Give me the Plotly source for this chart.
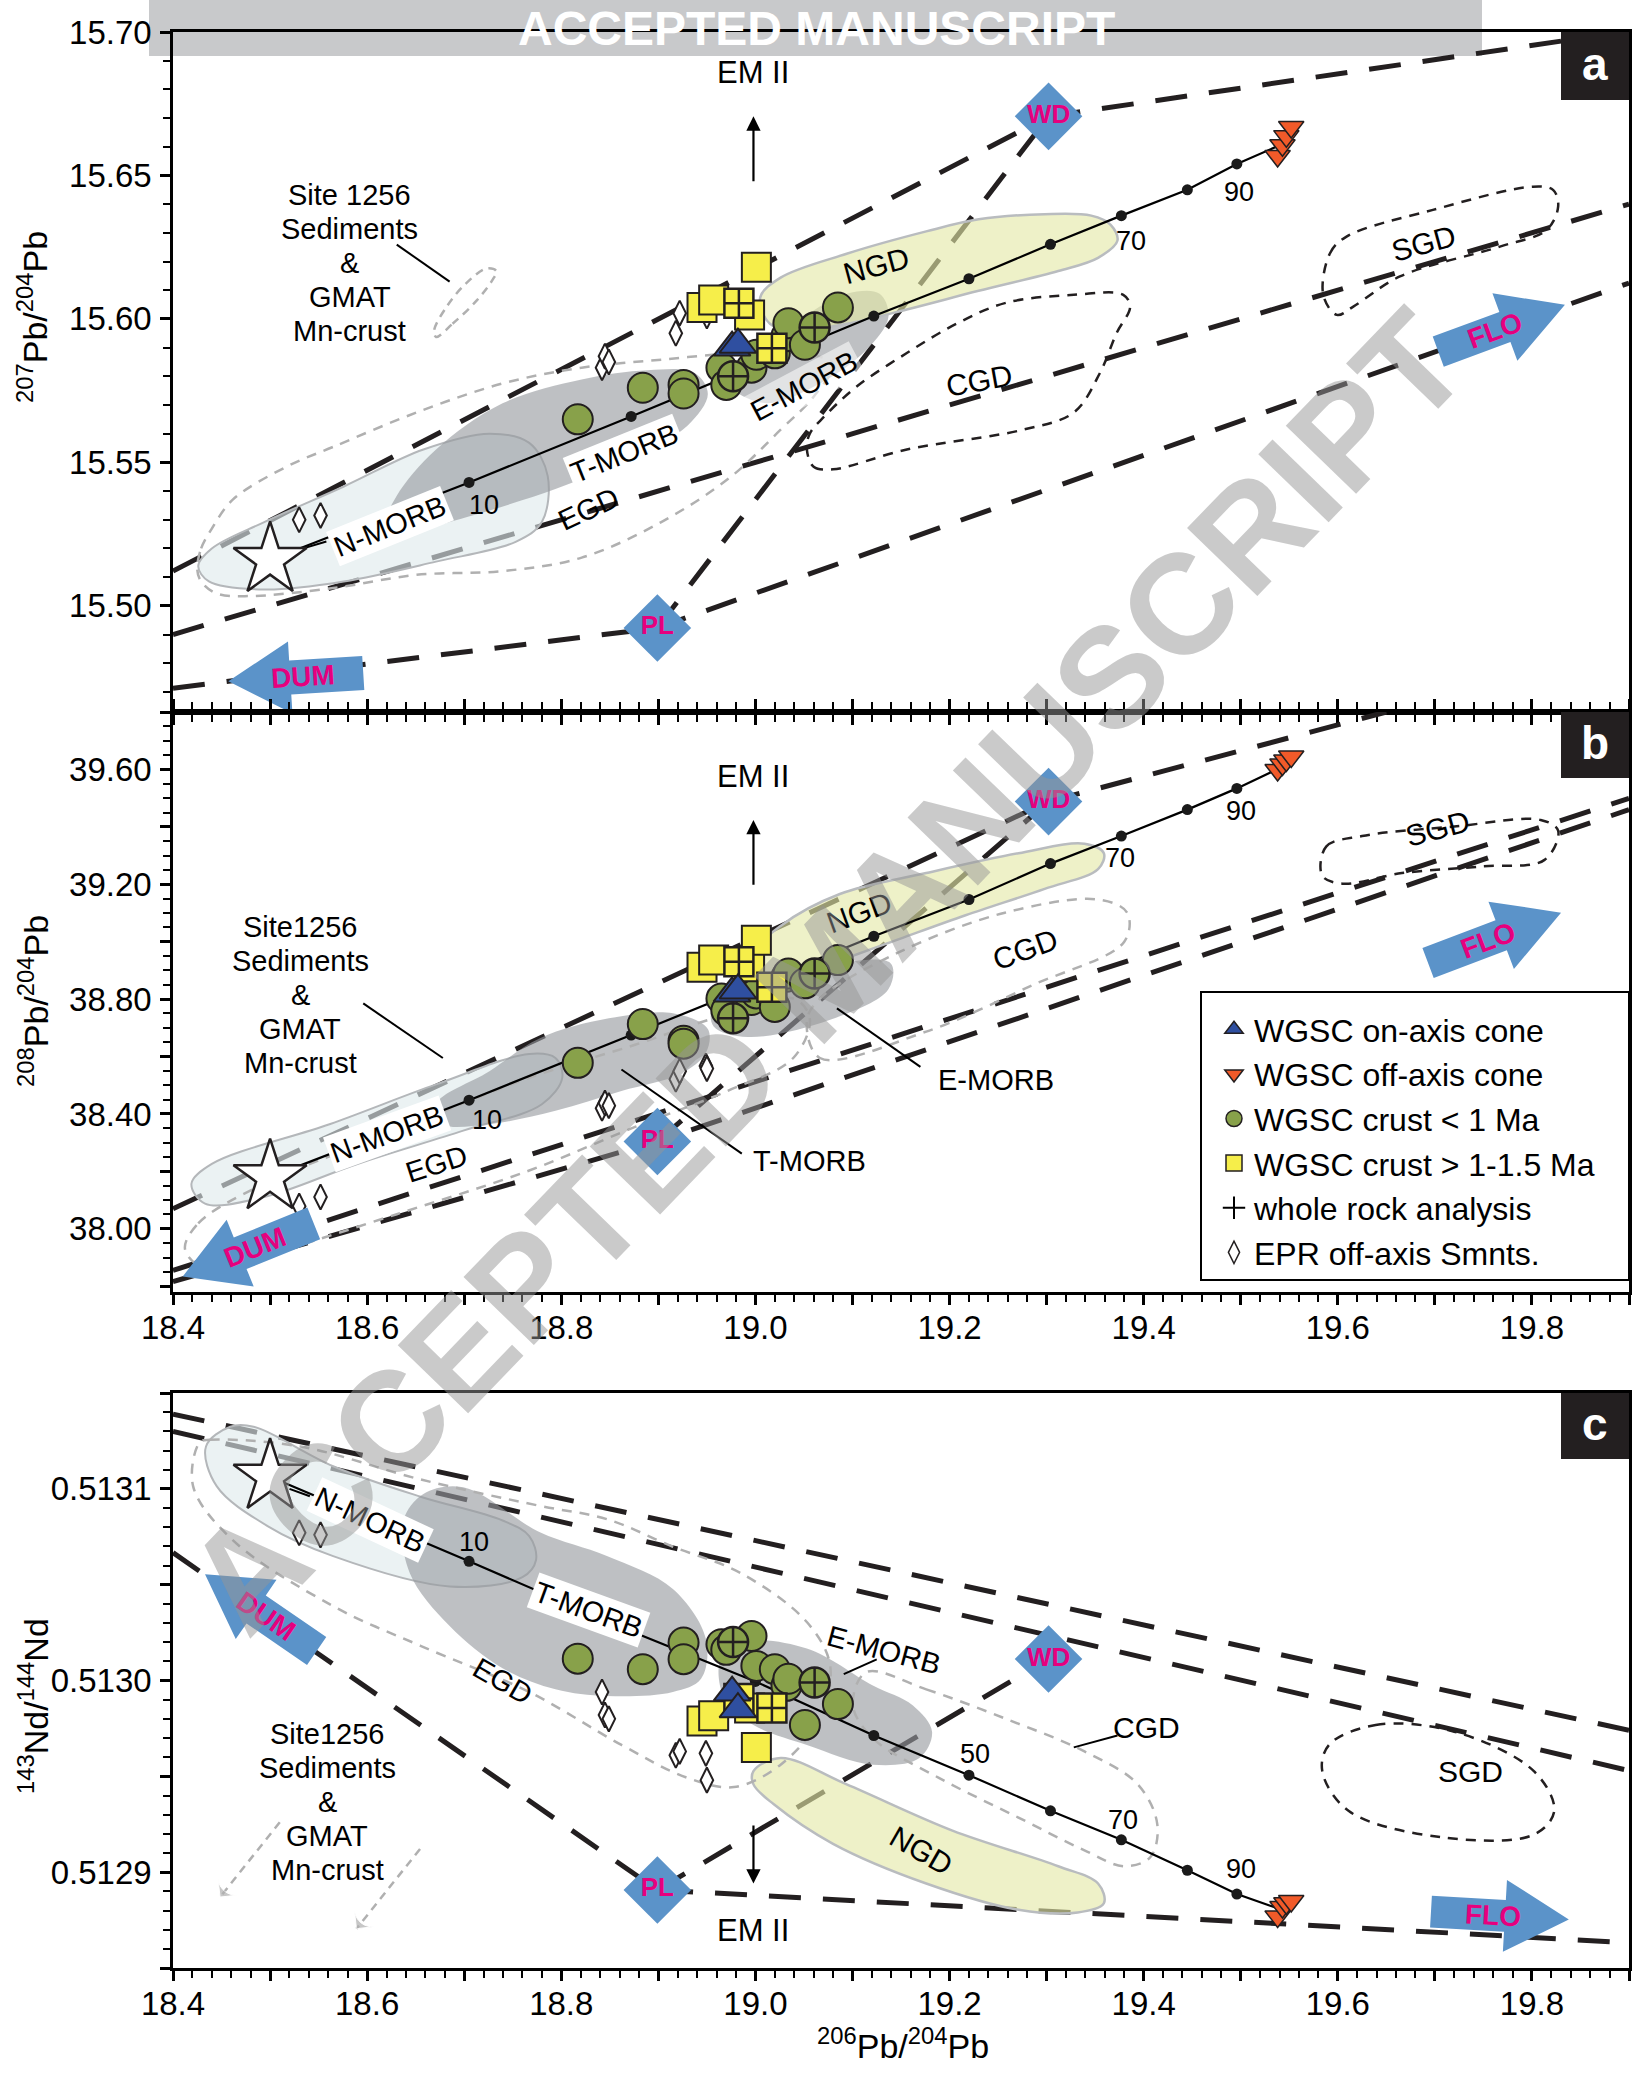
import math
import plotly.graph_objects as go

FONT = "Liberation Sans, Arial, Helvetica, sans-serif"
W, H = 1632, 2073

# ---------------- axis ranges ----------------
X_RANGE = [18.4, 19.9]
YA_RANGE = [15.463, 15.70]
YB_RANGE = [37.78, 39.80]
YC_RANGE = [0.51285, 0.51315]

# ---------------- data ----------------
# WGSC crust < 1 Ma (green circles); *_WR = whole-rock analyses (crossed)
CRUST_X = [18.817, 18.884, 18.926, 18.926, 18.965, 18.970, 18.996, 19.001, 19.020, 19.032, 19.034, 19.051, 19.085]
CRUST_207 = [15.565, 15.576, 15.577, 15.574, 15.583, 15.577, 15.583, 15.5875, 15.588, 15.594, 15.5985, 15.591, 15.604]
CRUST_208 = [38.578, 38.713, 38.655, 38.645, 38.802, 38.760, 38.797, 38.820, 38.773, 38.878, 38.889, 38.855, 38.936]
CRUST_ND = [0.5130114, 0.5130059, 0.5130198, 0.5130111, 0.5130189, 0.5130160, 0.5130232, 0.5130076, 0.5130059, 0.5129972, 0.5130009, 0.5129768, 0.5129877]
CRUST_WR_X = [18.977, 19.061]
CRUST_WR_207 = [15.580, 15.597]
CRUST_WR_208 = [38.733, 38.889]
CRUST_WR_ND = [0.5130201, 0.5129990]

# WGSC crust > 1-1.5 Ma (yellow squares)
OLD_X = [18.945, 18.957, 18.994, 19.001]
OLD_207 = [15.604, 15.6066, 15.6014, 15.618]
OLD_208 = [38.911, 38.936, 38.913, 39.005]
OLD_ND = [0.5129789, 0.5129816, 0.5129857, 0.5129651]
OLD_WR_X = [18.983, 19.017]
OLD_WR_207 = [15.6055, 15.5898]
OLD_WR_208 = [38.930, 38.841]
OLD_WR_ND = [0.5129906, 0.5129857]

# WGSC on-axis cone (blue triangles)
ON_X = [18.976, 18.982]
ON_207 = [15.590, 15.591]
ON_208 = [38.820, 38.830]
ON_ND = [0.5129937, 0.5129850]

# WGSC off-axis cone (red triangles)
OFF_X = [19.538, 19.543, 19.547, 19.552]
OFF_207 = [15.6568, 15.6605, 15.6637, 15.6669]
OFF_208 = [39.598, 39.617, 39.631, 39.645]
OFF_ND = [0.5128769, 0.5128818, 0.5128838, 0.5128850]

# EPR off-axis seamounts (open diamonds)
EPR_X = [18.530, 18.552, 18.842, 18.845, 18.849, 18.918, 18.922, 18.949, 18.950]
EPR_207 = [15.530, 15.5315, 15.583, 15.587, 15.585, 15.595, 15.602, 15.603, 15.601]
EPR_208 = [38.079, 38.111, 38.420, 38.438, 38.429, 38.521, 38.549, 38.567, 38.558]
EPR_ND = [0.5130771, 0.5130760, 0.5129940, 0.5129820, 0.5129800, 0.5129610, 0.5129630, 0.5129620, 0.5129480]

# N-MORB end member (star)
STAR_X = [18.50]
STAR_207 = [15.516]
STAR_208 = [38.180]
STAR_ND = [0.5131063]

# mixing curve N-MORB -> off-axis cone, ticks every 10 %
MIX_PCT = [10, 20, 30, 40, 50, 60, 70, 80, 90]
MIX_X = [18.705, 18.872, 19.000, 19.122, 19.220, 19.304, 19.377, 19.445, 19.496]
MIX_207 = [15.543, 15.566, 15.584, 15.601, 15.614, 15.626, 15.636, 15.645, 15.654]
MIX_208 = [38.448, 38.675, 38.850, 39.019, 39.147, 39.272, 39.368, 39.460, 39.534]
MIX_ND = [0.5130622, 0.5130257, 0.5129995, 0.5129713, 0.5129506, 0.5129320, 0.5129169, 0.5129010, 0.5128886]
MIX_END_X = 19.55
MIX_END = {"a": 15.662, "b": 39.620, "c": 0.5128790}

# mantle end members (WD, PL) per panel
WD = {"a": (19.302, 15.6706), "b": (19.302, 39.488), "c": (19.302, 0.5130112)}
PL = {"a": (18.899, 15.4923), "b": (18.899, 38.304), "c": (18.899, 0.5128907)}

# dashed mixing lines between end members
LINES = {
    "a": [[(18.4, 15.5121), (19.302, 15.6706)],
          [(19.302, 15.6706), (19.9, 15.7003)],
          [(18.4, 15.490), (19.9, 15.640)],
          [(18.4, 15.4713), (18.899, 15.4923), (19.9, 15.6125)],
          [(18.899, 15.4923), (19.302, 15.6706)]],
    "b": [[(18.4, 38.070), (19.302, 39.488)],
          [(19.302, 39.488), (19.65, 39.80)],
          [(18.4, 37.855), (19.9, 39.499)],
          [(18.4, 37.816), (18.899, 38.304), (19.9, 39.460)],
          [(18.899, 38.304), (19.302, 39.488)]],
    "c": [[(18.4, 0.513139), (19.9, 0.512974)],
          [(18.4, 0.513130), (19.9, 0.512953)],
          [(18.4, 0.5130667), (18.899, 0.5128907), (19.9, 0.5128632)],
          [(18.899, 0.5128907), (19.302, 0.5130112)]],
}

# filled fields
NMORB = {
    "a": [(18.426, 15.5139), (18.437, 15.5085), (18.494, 15.5057), (18.576, 15.5085), (18.671, 15.5154), (18.753, 15.5223),
          (18.780, 15.5292), (18.786, 15.5453), (18.767, 15.5568), (18.726, 15.5600), (18.658, 15.5545), (18.576, 15.5416),
          (18.494, 15.5292), (18.440, 15.5200)],
    "b": [(18.419, 38.157), (18.440, 38.226), (18.562, 38.365), (18.671, 38.503), (18.767, 38.609), (18.794, 38.595),
          (18.801, 38.526), (18.780, 38.434), (18.699, 38.342), (18.590, 38.226), (18.494, 38.111), (18.433, 38.088)],
    "c": [(18.434, 0.5131221), (18.459, 0.5131324), (18.483, 0.5131324), (18.565, 0.5131118), (18.655, 0.5130959),
          (18.7395, 0.5130835), (18.767, 0.5130753), (18.774, 0.5130629), (18.760, 0.5130539), (18.685, 0.5130491),
          (18.565, 0.5130649), (18.497, 0.5130807), (18.445, 0.5131014)],
}
TMORB = {
    "a": [(18.6305, 15.5246), (18.685, 15.5292), (18.794, 15.5407), (18.8757, 15.5522), (18.930, 15.5628), (18.951, 15.5738),
          (18.937, 15.5812), (18.889, 15.5821), (18.821, 15.5789), (18.7395, 15.5706), (18.671, 15.5545), (18.6305, 15.5384),
          (18.620, 15.5292)],
    "b": [(18.671, 38.434), (18.726, 38.549), (18.778, 38.664), (18.849, 38.733), (18.915, 38.751), (18.951, 38.696),
          (18.949, 38.613), (18.923, 38.540), (18.862, 38.480), (18.794, 38.411), (18.726, 38.365), (18.678, 38.365)],
    "c": [(18.6374, 0.5130835), (18.658, 0.5130973), (18.699, 0.5131008), (18.778, 0.5130773), (18.847, 0.5130649),
          (18.915, 0.5130477), (18.949, 0.5130216), (18.944, 0.5130009), (18.915, 0.5129940), (18.847, 0.5129919),
          (18.794, 0.5129954), (18.7395, 0.5130064), (18.685, 0.5130284), (18.644, 0.5130560)],
}
EMORB = {
    "a": [(18.978, 15.5752), (19.012, 15.5706), (19.0665, 15.5775), (19.114, 15.5891), (19.137, 15.6006), (19.128, 15.6088),
          (19.094, 15.6088), (19.039, 15.5983), (18.992, 15.5867), (18.971, 15.5798)],
    "b": [(18.956, 38.775), (18.985, 38.848), (19.039, 38.894), (19.139, 38.926), (19.137, 38.834), (19.077, 38.728),
          (18.992, 38.668), (18.957, 38.705)],
    "c": [(18.964, 0.5130112), (18.985, 0.5130202), (19.053, 0.5130167), (19.121, 0.5129974), (19.162, 0.5129871),
          (19.182, 0.5129733), (19.169, 0.5129596), (19.121, 0.5129561), (19.053, 0.5129664), (18.998, 0.5129768),
          (18.968, 0.5129906)],
}
NGD = {
    "a": [(19.005, 15.6075), (19.026, 15.6144), (19.094, 15.6227), (19.176, 15.6305), (19.230, 15.6347), (19.298, 15.6365),
          (19.346, 15.6360), (19.366, 15.6328), (19.373, 15.6273), (19.353, 15.6213), (19.312, 15.6167), (19.230, 15.6098),
          (19.156, 15.6033), (19.094, 15.5983), (19.046, 15.5960), (19.015, 15.5983)],
    "b": [(19.002, 38.972), (19.026, 39.055), (19.087, 39.166), (19.176, 39.239), (19.271, 39.308), (19.339, 39.341),
          (19.359, 39.308), (19.353, 39.253), (19.298, 39.184), (19.2165, 39.092), (19.148, 39.009), (19.080, 38.926),
          (19.026, 38.862), (19.005, 38.894)],
    "c": [(18.998, 0.5129527), (19.026, 0.5129596), (19.094, 0.5129458), (19.203, 0.5129217), (19.312, 0.5129031),
          (19.353, 0.5128941), (19.359, 0.5128838), (19.332, 0.5128790), (19.271, 0.5128804), (19.176, 0.5128941),
          (19.080, 0.5129148), (19.019, 0.5129354), (18.998, 0.5129458)],
}
# dashed outlines
EGD = {
    "a": [(18.425, 15.5126), (18.429, 15.5200), (18.440, 15.5269), (18.4616, 15.5370), (18.517, 15.5485), (18.565, 15.5554),
          (18.651, 15.5674), (18.7395, 15.5775), (18.821, 15.5830), (18.903, 15.5858), (18.985, 15.5881), (19.053, 15.5876),
          (19.080, 15.5844), (19.060, 15.5729), (19.026, 15.5614), (18.974, 15.5448), (18.903, 15.5292), (18.821, 15.5168),
          (18.7395, 15.5121), (18.651, 15.5108), (18.565, 15.5062), (18.479, 15.5034), (18.445, 15.5043), (18.429, 15.5085)],
    "b": [(18.4125, 37.927), (18.426, 38.019), (18.494, 38.157), (18.6305, 38.342), (18.767, 38.526), (18.876, 38.641),
          (18.957, 38.733), (19.039, 38.802), (19.056, 38.733), (19.039, 38.595), (18.971, 38.480), (18.876, 38.355),
          (18.767, 38.203), (18.6305, 38.051), (18.494, 37.904), (18.440, 37.849)],
    "c": [(18.4275, 0.5131242), (18.438, 0.5131256), (18.531, 0.5131221), (18.655, 0.5131049), (18.778, 0.5130911),
          (18.847, 0.5130842), (18.915, 0.5130698), (18.985, 0.5130560), (19.053, 0.5130305), (19.077, 0.5130078),
          (19.0665, 0.5129802), (19.026, 0.5129561), (18.978, 0.5129444), (18.930, 0.5129492), (18.862, 0.5129664),
          (18.767, 0.5129940), (18.655, 0.5130181), (18.565, 0.5130388), (18.4616, 0.5130732), (18.4207, 0.5131014)],
}
CGD = {
    "a": [(19.053, 15.5545), (19.060, 15.5485), (19.080, 15.5476), (19.156, 15.5545), (19.276, 15.5614), (19.328, 15.5674),
          (19.355, 15.5812), (19.372, 15.5950), (19.386, 15.6042), (19.379, 15.6084), (19.328, 15.6084), (19.258, 15.6056),
          (19.207, 15.5983), (19.156, 15.5881), (19.105, 15.5766), (19.071, 15.5660), (19.056, 15.5600)],
    "b": [(19.053, 38.724), (19.0665, 38.595), (19.176, 38.687), (19.285, 38.848), (19.380, 39.000), (19.383, 39.101),
          (19.353, 39.147), (19.257, 39.101), (19.148, 38.9635), (19.0665, 38.802)],
    "c": [(19.114, 0.5130043), (19.176, 0.5129954), (19.257, 0.5129802), (19.339, 0.5129630), (19.394, 0.5129458),
          (19.414, 0.5129251), (19.407, 0.5129079), (19.380, 0.5129031), (19.339, 0.5129114), (19.271, 0.5129285),
          (19.189, 0.5129492), (19.121, 0.5129699), (19.1005, 0.5129871)],
}
SGD = {
    "a": [(19.585, 15.6084), (19.592, 15.6229), (19.609, 15.6287), (19.698, 15.6380), (19.801, 15.6461), (19.822, 15.6449),
          (19.827, 15.6391), (19.815, 15.6310), (19.767, 15.6252), (19.664, 15.6148), (19.616, 15.6043), (19.599, 15.6014)],
    "b": [(19.584, 39.230), (19.588, 39.331), (19.625, 39.368), (19.720, 39.401), (19.809, 39.424), (19.827, 39.387),
          (19.813, 39.285), (19.748, 39.262), (19.666, 39.239), (19.605, 39.202)],
    "c": [(19.591, 0.5129664), (19.639, 0.5129768), (19.720, 0.5129733), (19.802, 0.5129527), (19.823, 0.5129320),
          (19.802, 0.5129196), (19.707, 0.5129182), (19.611, 0.5129320), (19.584, 0.5129527)],
}
SITE_A = [(18.671, 15.5937), (18.688, 15.5983), (18.712, 15.6061), (18.729, 15.6135), (18.733, 15.6167),
          (18.723, 15.6176), (18.701, 15.6121), (18.682, 15.6043), (18.669, 15.5960)]
SITE_C_ARROWS = [[(18.510, 0.5129260), (18.4485, 0.5128870)], [(18.6545, 0.5129121), (18.589, 0.5128705)]]

# block arrows (tip, tail) for DUM and FLO
DUM = {"a": ((18.457, 15.4737), (18.596, 15.4766)),
       "b": ((18.410, 37.834), (18.545, 38.019)),
       "c": ((18.433, 0.5130554), (18.548, 0.5130154))}
FLO = {"a": ((19.834, 15.6049), (19.7035, 15.5886)),
       "b": ((19.830, 39.101), (19.693, 38.926)),
       "c": ((19.838, 0.5128753), (19.696, 0.5128794))}
EM2 = {"a": ((18.998, 15.6706), (18.998, 15.6475)),
       "b": ((18.998, 39.424), (18.998, 39.193)),
       "c": ((18.998, 0.5128941), (18.998, 0.5129251))}

# text labels (panel, x, y, text, angle, background, size)
LABELS = [
    ("a", 18.582, 15.6194, "Site 1256<br>Sediments<br>&<br>GMAT<br>Mn-crust", 0, None, 29),
    ("a", 18.998, 15.6858, "EM II", 0, None, 31),
    ("a", 18.624, 15.5278, "N-MORB", -22, "white", 29),
    ("a", 18.720, 15.5352, "10", 0, None, 27),
    ("a", 18.865, 15.5532, "T-MORB", -22, "white", 29),
    ("a", 18.828, 15.5338, "EGD", -25, None, 29),
    ("a", 19.050, 15.5766, "E-MORB", -28, "rgba(255,255,255,0.55)", 29),
    ("a", 19.125, 15.6185, "NGD", -15, None, 30),
    ("a", 19.231, 15.5784, "CGD", -10, None, 30),
    ("a", 19.688, 15.6264, "SGD", -15, None, 30),
    ("a", 19.387, 15.6273, "70", 0, None, 27),
    ("a", 19.498, 15.6443, "90", 0, None, 27),
    ("b", 18.531, 38.816, "Site1256<br>Sediments<br>&<br>GMAT<br>Mn-crust", 0, None, 29),
    ("b", 18.998, 39.575, "EM II", 0, None, 31),
    ("b", 18.620, 38.332, "N-MORB", -20, "white", 29),
    ("b", 18.723, 38.378, "10", 0, None, 27),
    ("b", 18.671, 38.226, "EGD", -18, None, 29),
    ("b", 19.056, 38.235, "T-MORB", 0, None, 29),
    ("b", 19.248, 38.517, "E-MORB", 0, None, 29),
    ("b", 19.107, 39.101, "NGD", -20, None, 30),
    ("b", 19.278, 38.972, "CGD", -20, None, 30),
    ("b", 19.703, 39.396, "SGD", -15, None, 30),
    ("b", 19.376, 39.290, "70", 0, None, 27),
    ("b", 19.500, 39.456, "90", 0, None, 27),
    ("c", 18.603, 0.5130835, "N-MORB", 25, "white", 29),
    ("c", 18.710, 0.5130725, "10", 0, None, 27),
    ("c", 18.828, 0.5130367, "T-MORB", 20, "white", 29),
    ("c", 19.132, 0.5130161, "E-MORB", 15, None, 29),
    ("c", 18.7395, 0.5129995, "EGD", 30, None, 29),
    ("c", 19.171, 0.5129114, "NGD", 30, None, 30),
    ("c", 19.403, 0.5129754, "CGD", 0, None, 30),
    ("c", 19.737, 0.5129527, "SGD", 0, None, 30),
    ("c", 19.226, 0.5129617, "50", 0, None, 27),
    ("c", 19.379, 0.5129272, "70", 0, None, 27),
    ("c", 19.500, 0.5129017, "90", 0, None, 27),
    ("c", 18.998, 0.5128694, "EM II", 0, None, 31),
    ("c", 18.559, 0.5129365, "Site1256<br>Sediments<br>&<br>GMAT<br>Mn-crust", 0, None, 29),
]
LEADERS = {
    "a": [[(18.6305, 15.6259), (18.685, 15.613)], [(18.529, 15.5195), (18.558, 15.5224)]],
    "b": [[(18.596, 38.785), (18.678, 38.595)], [(18.862, 38.555), (18.986, 38.262)], [(19.084, 38.768), (19.170, 38.564)]],
    "c": [[(19.373, 0.5129713), (19.328, 0.5129651)], [(19.125, 0.5130110), (19.091, 0.5130033)],
          [(18.520, 0.5131000), (18.541, 0.5130961)]],
}

# ---------------- layout geometry (pixels) ----------------
X_PX = (173, 1629)
Y_PX = {"a": (32, 712), "b": (712, 1292), "c": (1393, 1968)}
Y_RANGES = {"a": YA_RANGE, "b": YB_RANGE, "c": YC_RANGE}
AX = {"a": ("x", "y"), "b": ("x2", "y2"), "c": ("x3", "y3")}
LINE_SPACING_PX = 34

PANEL_Y = {
    "a": dict(crust=CRUST_207, crust_wr=CRUST_WR_207, old=OLD_207, old_wr=OLD_WR_207, on=ON_207, off=OFF_207,
              epr=EPR_207, star=STAR_207, mix=MIX_207),
    "b": dict(crust=CRUST_208, crust_wr=CRUST_WR_208, old=OLD_208, old_wr=OLD_WR_208, on=ON_208, off=OFF_208,
              epr=EPR_208, star=STAR_208, mix=MIX_208),
    "c": dict(crust=CRUST_ND, crust_wr=CRUST_WR_ND, old=OLD_ND, old_wr=OLD_WR_ND, on=ON_ND, off=OFF_ND,
              epr=EPR_ND, star=STAR_ND, mix=MIX_ND),
}

GREEN = "#88a14a"
YELLOW = "#f6ee4a"
BLUE_ON = "#2f4fa0"
RED_OFF = "#f15a29"
EDGE = "#231f20"
EM_BLUE = "#5b93c9"
MAGENTA = "#e6007e"


def to_px(p, x, y):
    y0, y1 = Y_RANGES[p]
    px = X_PX[0] + (x - X_RANGE[0]) / (X_RANGE[1] - X_RANGE[0]) * (X_PX[1] - X_PX[0])
    py = Y_PX[p][1] - (y - y0) / (y1 - y0) * (Y_PX[p][1] - Y_PX[p][0])
    return px, py


def from_px(p, px, py):
    y0, y1 = Y_RANGES[p]
    x = X_RANGE[0] + (px - X_PX[0]) / (X_PX[1] - X_PX[0]) * (X_RANGE[1] - X_RANGE[0])
    y = y0 + (Y_PX[p][1] - py) / (Y_PX[p][1] - Y_PX[p][0]) * (y1 - y0)
    return x, y


fig = go.Figure()


def add(p, **kw):
    xa, ya = AX[p]
    sl = kw.pop("showlegend", False)
    fig.add_trace(go.Scatter(xaxis=xa, yaxis=ya, showlegend=sl, hoverinfo="skip", **kw))


def closed(pts):
    xs = [q[0] for q in pts] + [pts[0][0]]
    ys = [q[1] for q in pts] + [pts[0][1]]
    return xs, ys


annotations = []
shapes = []

# legend-only traces
LEG_FONT = dict(family=FONT, size=32, color="black")
fig.add_trace(go.Scatter(x=[None], y=[None], xaxis="x2", yaxis="y2", mode="markers", name="WGSC on-axis cone",
                         marker=dict(symbol="triangle-up", size=22, color=BLUE_ON, line=dict(color=EDGE, width=1.5))))
fig.add_trace(go.Scatter(x=[None], y=[None], xaxis="x2", yaxis="y2", mode="markers", name="WGSC off-axis cone",
                         marker=dict(symbol="triangle-down", size=22, color=RED_OFF, line=dict(color=EDGE, width=1.5))))
fig.add_trace(go.Scatter(x=[None], y=[None], xaxis="x2", yaxis="y2", mode="markers", name="WGSC crust < 1 Ma",
                         marker=dict(symbol="circle", size=22, color=GREEN, line=dict(color=EDGE, width=1.5))))
fig.add_trace(go.Scatter(x=[None], y=[None], xaxis="x2", yaxis="y2", mode="markers", name="WGSC crust > 1-1.5 Ma",
                         marker=dict(symbol="square", size=16, color=YELLOW, line=dict(color=EDGE, width=1.5))))
fig.add_trace(go.Scatter(x=[None], y=[None], xaxis="x2", yaxis="y2", mode="markers", name="whole rock analysis",
                         marker=dict(symbol="cross-thin", size=18, color="black", line=dict(color="black", width=2))))
fig.add_trace(go.Scatter(x=[None], y=[None], xaxis="x2", yaxis="y2", mode="markers", name="EPR off-axis Smnts.",
                         marker=dict(symbol="diamond-tall", size=18, color="white", line=dict(color=EDGE, width=1.5))))


def block_arrow(p, tip, tail, label, shaft=34, head=72, head_len=62):
    tx, ty = to_px(p, *tip)
    sx, sy = to_px(p, *tail)
    dx, dy = tx - sx, ty - sy
    L = math.hypot(dx, dy)
    ux, uy = dx / L, dy / L
    nx, ny = -uy, ux
    kx, ky = tx - ux * head_len, ty - uy * head_len
    pts_px = [(sx + nx * shaft / 2, sy + ny * shaft / 2), (kx + nx * shaft / 2, ky + ny * shaft / 2),
              (kx + nx * head / 2, ky + ny * head / 2), (tx, ty),
              (kx - nx * head / 2, ky - ny * head / 2), (kx - nx * shaft / 2, ky - ny * shaft / 2),
              (sx - nx * shaft / 2, sy - ny * shaft / 2)]
    pts = [from_px(p, a, b) for a, b in pts_px]
    xs, ys = closed(pts)
    add(p, x=xs, y=ys, mode="lines", fill="toself", fillcolor=EM_BLUE, line=dict(width=0, color=EM_BLUE))
    ang = math.degrees(math.atan2(dy, dx))
    if ang > 90:
        ang -= 180
    if ang < -90:
        ang += 180
    cx, cy = from_px(p, sx + ux * (L * 0.45), sy + uy * (L * 0.45))
    xa, ya = AX[p]
    annotations.append(dict(x=cx, y=cy, xref=xa, yref=ya, text="<b>%s</b>" % label, showarrow=False,
                            xanchor="center", yanchor="middle",
                            textangle=ang, font=dict(family=FONT, size=28, color=MAGENTA)))


for p in ["a", "b", "c"]:
    xa, ya = AX[p]
    d = PANEL_Y[p]
    for ln in LINES[p]:
        add(p, x=[q[0] for q in ln], y=[q[1] for q in ln], mode="lines",
            line=dict(color=EDGE, width=5, dash="32px,22px"))
    xs, ys = closed(NMORB[p])
    add(p, x=xs, y=ys, mode="lines", fill="toself", fillcolor="rgba(222,234,236,0.62)",
        line=dict(color="#b4b7ba", width=2, shape="spline", smoothing=1.0))
    xs, ys = closed(TMORB[p])
    add(p, x=xs, y=ys, mode="lines", fill="toself", fillcolor="rgba(150,153,158,0.62)",
        line=dict(width=0, shape="spline", smoothing=1.0, color="rgba(0,0,0,0)"))
    xs, ys = closed(EMORB[p])
    add(p, x=xs, y=ys, mode="lines", fill="toself", fillcolor="rgba(150,153,158,0.62)",
        line=dict(width=0, shape="spline", smoothing=1.0, color="rgba(0,0,0,0)"))
    xs, ys = closed(NGD[p])
    add(p, x=xs, y=ys, mode="lines", fill="toself", fillcolor="rgba(228,232,166,0.62)",
        line=dict(color="#b9bcbf", width=2.5, shape="spline", smoothing=1.0))
    xs, ys = closed(EGD[p])
    add(p, x=xs, y=ys, mode="lines", line=dict(color="#b0b0b0", width=2.5, dash="10px,8px", shape="spline", smoothing=1.0))
    xs, ys = closed(CGD[p])
    add(p, x=xs, y=ys, mode="lines",
        line=dict(color=("#b0b0b0" if p != "a" else EDGE), width=2.5, dash="10px,8px", shape="spline", smoothing=1.0))
    xs, ys = closed(SGD[p])
    add(p, x=xs, y=ys, mode="lines", line=dict(color=EDGE, width=2.5, dash="10px,8px", shape="spline", smoothing=1.0))
    if p == "a":
        xs, ys = closed(SITE_A)
        add(p, x=xs, y=ys, mode="lines", line=dict(color="#b0b0b0", width=2.5, dash="8px,6px", shape="spline", smoothing=1.0))
    if p == "c":
        for ar in SITE_C_ARROWS:
            add(p, x=[q[0] for q in ar], y=[q[1] for q in ar], mode="lines",
                line=dict(color="#b0b0b0", width=2.5, dash="8px,6px"))
            add(p, x=[q[0] for q in ar], y=[q[1] for q in ar], mode="markers",
                marker=dict(symbol="arrow-wide", size=[0, 18], angleref="previous", color="#b0b0b0"))
    for ln in LEADERS[p]:
        add(p, x=[q[0] for q in ln], y=[q[1] for q in ln], mode="lines", line=dict(color="black", width=2))
    mx = STAR_X + MIX_X + [MIX_END_X]
    my = d["star"] + d["mix"] + [MIX_END[p]]
    add(p, x=mx, y=my, mode="lines", line=dict(color="black", width=2.2))
    add(p, x=MIX_X, y=d["mix"], mode="markers", marker=dict(symbol="circle", size=11, color="#1a1a1a"))
    add(p, x=EPR_X, y=d["epr"], mode="markers",
        marker=dict(symbol="diamond-tall", size=18, color="white", line=dict(color=EDGE, width=2)))
    add(p, x=STAR_X, y=d["star"], mode="markers",
        marker=dict(symbol="star", size=55, color="white", line=dict(color=EDGE, width=2.5)))
    add(p, x=CRUST_X, y=d["crust"], mode="markers",
        marker=dict(symbol="circle", size=30, color=GREEN, line=dict(color=EDGE, width=2)))
    add(p, x=CRUST_WR_X, y=d["crust_wr"], mode="markers",
        marker=dict(symbol="circle-cross", size=30, color=GREEN, line=dict(color=EDGE, width=2.5)))
    add(p, x=OLD_X, y=d["old"], mode="markers",
        marker=dict(symbol="square", size=29, color=YELLOW, line=dict(color=EDGE, width=2)))
    add(p, x=OLD_WR_X, y=d["old_wr"], mode="markers",
        marker=dict(symbol="square-cross", size=29, color=YELLOW, line=dict(color=EDGE, width=2.5)))
    add(p, x=ON_X, y=d["on"], mode="markers",
        marker=dict(symbol="triangle-up", size=32, color=BLUE_ON, line=dict(color=EDGE, width=2)))
    add(p, x=OFF_X, y=d["off"], mode="markers",
        marker=dict(symbol="triangle-down", size=22, color=RED_OFF, line=dict(color=EDGE, width=1.5)))
    for name, pos in (("WD", WD[p]), ("PL", PL[p])):
        add(p, x=[pos[0]], y=[pos[1]], mode="markers+text", text=["<b>%s</b>" % name], textposition="middle center",
            textfont=dict(family=FONT, size=26, color=MAGENTA),
            marker=dict(symbol="diamond", size=52, color=EM_BLUE, line=dict(width=0)))
    block_arrow(p, DUM[p][0], DUM[p][1], "DUM")
    block_arrow(p, FLO[p][0], FLO[p][1], "FLO", shaft=32, head=72, head_len=64)
    (hx, hy), (tx0, ty0) = EM2[p]
    annotations.append(dict(x=hx, y=hy, ax=tx0, ay=ty0, xref=xa, yref=ya, axref=xa, ayref=ya, text="",
                            showarrow=True, arrowhead=2, arrowsize=1.3, arrowwidth=2.2, arrowcolor="black"))

for (p, x, y, t, ang, bg, sz) in LABELS:
    xa, ya = AX[p]
    parts = t.split("<br>")
    n = len(parts)
    for i, part in enumerate(parts):
        a = dict(x=x, y=y, xref=xa, yref=ya, text=part, showarrow=False, textangle=ang, xanchor="center",
                 yanchor="middle", yshift=((n - 1) / 2.0 - i) * LINE_SPACING_PX,
                 font=dict(family=FONT, size=sz, color="black"))
        if bg:
            a["bgcolor"] = bg
            a["borderpad"] = 2
        annotations.append(a)


# ---------------- axes ----------------
def pxx(x):
    return x / W


def pxy(y):
    return 1 - y / H


def paper_text(x, y, text, size, color="black", angle=0):
    return dict(x=pxx(x), y=pxy(y), xref="paper", yref="paper", text=text, showarrow=False, textangle=angle,
                xanchor="center", yanchor="middle", font=dict(family=FONT, size=size, color=color))


XDOM = [pxx(X_PX[0]), pxx(X_PX[1])]
X_TICKS = [round(18.4 + 0.1 * i, 1) for i in range(16)]
X_TEXT = [("%.1f" % v if i % 2 == 0 and v < 19.85 else " ") for i, v in enumerate(X_TICKS)]
TICKFONT = dict(family=FONT, size=33, color="black")


def xaxis(p, labels, mirror):
    return dict(domain=XDOM, range=X_RANGE, anchor=AX[p][1], showline=True, linecolor="black", linewidth=2.5,
                mirror=mirror, showgrid=False, zeroline=False, tickmode="array", tickvals=X_TICKS,
                ticktext=X_TEXT, showticklabels=labels, ticks="outside", ticklen=10, tickwidth=2.5,
                tickcolor="black", tickfont=TICKFONT, ticklabelstandoff=-5, automargin=False,
                minor=dict(tickmode="linear", tick0=18.4, dtick=0.02, ticks="outside", ticklen=7,
                           tickwidth=2, tickcolor="black"))


def yaxis(p, tickvals, ticktext, minor_dtick, minor_tick0):
    top, bot = Y_PX[p]
    return dict(domain=[pxy(bot), pxy(top)], range=Y_RANGES[p], anchor=AX[p][0], showline=True, linecolor="black",
                linewidth=2.5, mirror=True, showgrid=False, zeroline=False, tickmode="array", tickvals=tickvals,
                ticktext=ticktext, ticks="outside", ticklen=10, tickwidth=2.5, tickcolor="black", tickfont=TICKFONT,
                ticklabelstandoff=2, automargin=False,
                minor=dict(tickmode="linear", tick0=minor_tick0, dtick=minor_dtick, ticks="outside", ticklen=7,
                           tickwidth=2, tickcolor="black"))


YA_TICKS = [15.50, 15.55, 15.60, 15.65, 15.70]
YA_TEXT = ["%.2f" % v for v in YA_TICKS]
YB_TICKS = [round(37.8 + 0.2 * i, 1) for i in range(11)]
YB_TEXT = [("%.2f" % v if abs((v * 10) % 4) < 1e-6 else " ") for v in YB_TICKS]
YC_TICKS = [0.51285, 0.5129, 0.51295, 0.5130, 0.51305, 0.5131, 0.51315]
YC_TEXT = [" ", "0.5129", " ", "0.5130", " ", "0.5131", " "]

layout = dict(
    width=W, height=H, margin=dict(l=0, r=0, t=0, b=0, autoexpand=False),
    paper_bgcolor="white", plot_bgcolor="rgba(0,0,0,0)",
    font=dict(family=FONT, color="black"),
    xaxis=xaxis("a", False, True),
    xaxis2=xaxis("b", True, "ticks"),
    xaxis3=xaxis("c", True, True),
    yaxis=yaxis("a", YA_TICKS, YA_TEXT, 0.01, 15.46),
    yaxis2=yaxis("b", YB_TICKS, YB_TEXT, 0.05, 37.8),
    yaxis3=yaxis("c", YC_TICKS, YC_TEXT, 0.00001, 0.51285),
    showlegend=True,
    legend=dict(x=pxx(1214), y=pxy(1002), xanchor="left", yanchor="top", bgcolor="rgba(0,0,0,0)",
                borderwidth=0, font=LEG_FONT, itemsizing="trace", tracegroupgap=0),
)

shapes.append(dict(type="rect", xref="paper", yref="paper", x0=pxx(1201), x1=pxx(1629), y0=pxy(1280), y1=pxy(992),
                   fillcolor="white", line=dict(color="black", width=2), layer="above"))
for p, (t0, t1) in {"a": (32, 100), "b": (712, 778), "c": (1393, 1459)}.items():
    shapes.append(dict(type="rect", xref="paper", yref="paper", x0=pxx(1561), x1=pxx(1629), y0=pxy(t1), y1=pxy(t0),
                       fillcolor="#231f20", line=dict(width=0), layer="above"))
    annotations.append(paper_text(1595, (t0 + t1) / 2 - 2, "<b>%s</b>" % p, 46, "white"))
for txt, yy in (("<sup>207</sup>Pb/<sup>204</sup>Pb", 317), ("<sup>208</sup>Pb/<sup>204</sup>Pb", 1001),
                 ("<sup>143</sup>Nd/<sup>144</sup>Nd", 1706)):
    annotations.append(paper_text(33, yy, txt, 34, angle=-90))
annotations.append(paper_text(903, 2043, "<sup>206</sup>Pb/<sup>204</sup>Pb", 34))
shapes.append(dict(type="rect", xref="paper", yref="paper", x0=pxx(149), x1=pxx(1482), y0=pxy(56), y1=1,
                   fillcolor="#c8c9cb", line=dict(width=0), layer="below"))
annotations.append(paper_text(816, 28, "<b>ACCEPTED MANUSCRIPT</b>", 48, "white"))
annotations.append(paper_text(826, 972, "<b>ACCEPTED MANUSCRIPT</b>", 142, "rgba(150,150,150,0.5)", angle=-46))

layout["annotations"] = annotations
layout["shapes"] = shapes
fig.update_layout(**layout)
fig.write_html("out.html")
